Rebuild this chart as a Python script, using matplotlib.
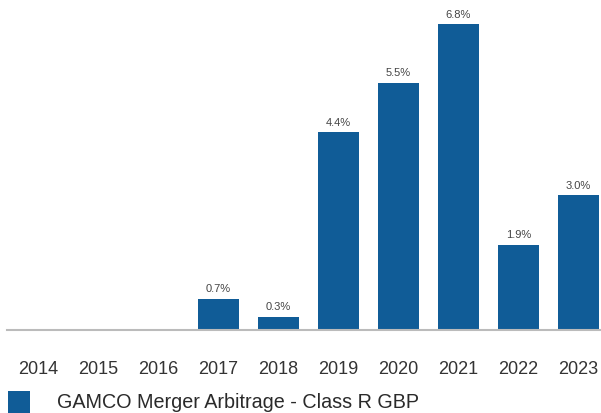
import matplotlib
matplotlib.use("Agg")
import matplotlib.pyplot as plt
from matplotlib.patches import Rectangle

years = ["2014", "2015", "2016", "2017", "2018", "2019", "2020", "2021", "2022", "2023"]
values = [None, None, None, 0.7, 0.3, 4.4, 5.5, 6.8, 1.9, 3.0]
series_name = "GAMCO Merger Arbitrage - Class R GBP"

W, H = 601, 413
fig = plt.figure(figsize=(W / 100, H / 100), dpi=100)
ax = fig.add_axes([8.5 / W, 83 / H, 600 / W, 315 / H])

color = "#105C97"
xs = list(range(len(years)))
for x, v in zip(xs, values):
    if v is None:
        continue
    ax.bar(x, v, width=0.68, color=color, zorder=2)
    ax.annotate(f"{v:.1f}%", (x, v), xytext=(0, 3), textcoords="offset points",
                ha="center", va="bottom", fontsize=8, color="#444444",
                family=["Liberation Sans", "DejaVu Sans"])

ax.set_xlim(-0.5, len(years) - 0.5)
ax.set_ylim(0, 7)
ax.set_xticks(xs)
ax.set_xticklabels(years, fontsize=13, color="#333333", family=["Liberation Sans", "DejaVu Sans"])
ax.tick_params(axis="x", length=0, pad=22.5)
ax.set_yticks([])
for s in ["top", "right", "left"]:
    ax.spines[s].set_visible(False)
ax.spines["bottom"].set_color("#bbbbbb")
ax.spines["bottom"].set_linewidth(1.5)
ax.spines["bottom"].set_bounds(-0.5 - 1.5 / 60, len(years) - 0.5)

fig.patches.append(Rectangle((8 / W, 0), 22 / W, 22 / H, transform=fig.transFigure,
                             facecolor=color, edgecolor="none"))
fig.text(57 / W, 1 - 403 / H, series_name, fontsize=14.2, color="#2a2a2a",
         va="center", ha="left", family=["Liberation Sans", "DejaVu Sans"])

fig.savefig("out.png", dpi=100)
